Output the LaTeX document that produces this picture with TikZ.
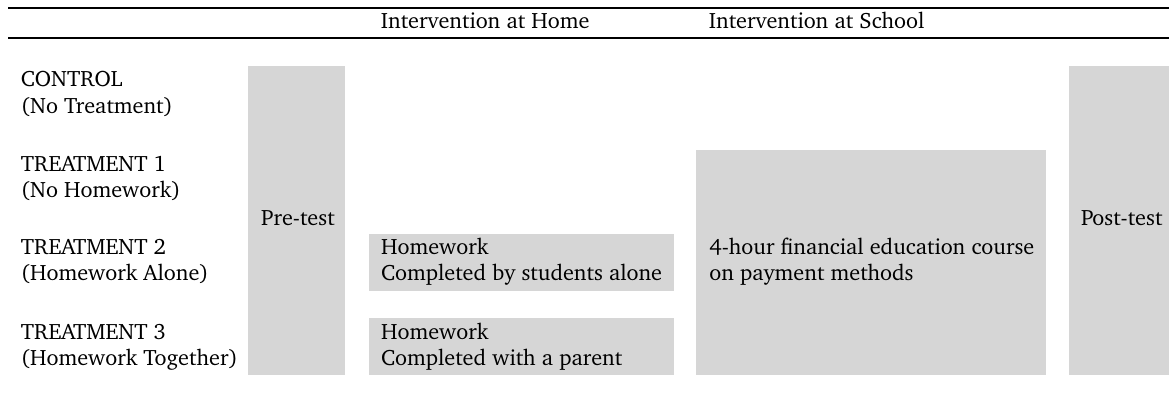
\documentclass[tikz,border=0pt]{standalone}
\usepackage[T1]{fontenc}
\usepackage{charter}
\usepackage{xcolor}
\usepackage{tikz}
\definecolor{cellgray}{RGB}{214,214,214}
\tikzset{
  cell/.style={fill=cellgray},
  txt/.style={anchor=base west, inner sep=0pt, align=left},
  rulebar/.style={line width=0.6pt},
}

\begin{document}
\begin{tikzpicture}[x=0.45pt, y=-0.45pt]
    \useasboundingbox (0,0) rectangle (1169,401);
    \coordinate (topL) at (8,8);
    \coordinate (topR) at (1169,8);
    \coordinate (midL) at (8,38);
    \coordinate (midR) at (1169,38);
    \draw[rulebar] (topL) -- (topR);
    \draw[rulebar] (midL) -- (midR);
    \node[txt] (home) at (380.5,29) {Intervention at Home};
    \node[txt] (school) at (708.5,29) {Intervention at School};
    \fill[cell] (248,66) rectangle (345,374.7);
    \fill[cell] (369,234.3) rectangle (674,290.7);
    \fill[cell] (369,318) rectangle (674,374.7);
    \fill[cell] (696,150) rectangle (1045.7,374.7);
    \fill[cell] (1069,66) rectangle (1169,374.7);
    \node[txt] (control) at (20.5,113.4) {CONTROL\\(No Treatment)};
    \node[txt] (treatA) at (20.5,197.7) {TREATMENT 1\\(No Homework)};
    \node[txt] (treatB) at (20.5,281) {TREATMENT 2\\(Homework Alone)};
    \node[txt] (treatC) at (20.5,365.7) {TREATMENT 3\\(Homework Together)};
    \node[txt] (pre) at (260.7,226) {Pre-test};
    \node[txt] (post) at (1080.7,225.7) {Post-test};
    \node[txt] (hwA) at (380.7,281) {Homework\\Completed by students alone};
    \node[txt] (hwB) at (380.7,365.7) {Homework\\Completed with a parent};
    \node[txt] (course) at (709,281) {4-hour financial education course\\on payment methods};
  \end{tikzpicture}
\end{document}
